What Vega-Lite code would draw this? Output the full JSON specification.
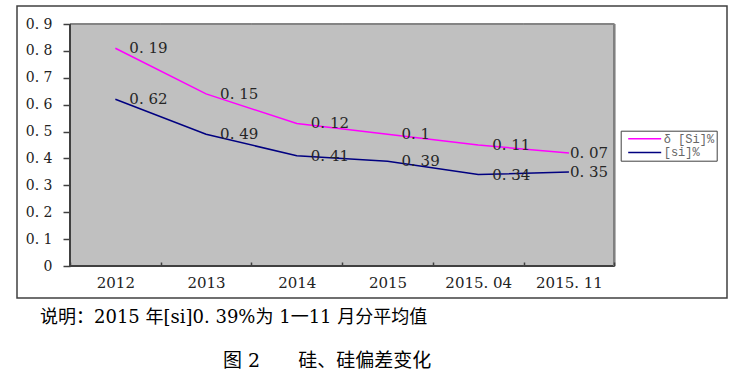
{
  "$schema": "https://vega.github.io/schema/vega-lite/v6.json",
  "width": 710,
  "height": 292,
  "autosize": {"type": "none"},
  "padding": {"left": 17, "top": 6, "right": 19, "bottom": 80},
  "config": {
    "view": {"stroke": "#404040", "strokeWidth": 1.5, "fill": "white"},
    "font": "DejaVu Serif",
    "background": "white",
    "axisY": {"labelOverlap": false},
    "axis": {"labelOverlap": false}
  },
  "title": {
    "text": "说明：2015 年[si]0. 39%为 1一11 月分平均值",
    "subtitle": "\u200b\u3000\u3000\u3000\u3000\u3000\u3000\u3000\u3000\u3000\u00a0\u00a0图 2\u3000\u3000硅、硅偏差变化",
    "orient": "bottom",
    "anchor": "start",
    "frame": "group",
    "dx": 23,
    "offset": 11,
    "font": "DejaVu Serif, Noto Sans CJK SC",
    "fontSize": 18,
    "fontWeight": "normal",
    "color": "black",
    "subtitleFont": "DejaVu Serif, Noto Sans CJK SC",
    "subtitleFontSize": 19,
    "subtitleColor": "black",
    "subtitlePadding": 25
  },
  "data": {
    "values": [
      {"year": "2012", "series": "[si]%", "v": 0.62},
      {"year": "2012", "series": "δ [Si]%", "v": 0.19},
      {"year": "2013", "series": "[si]%", "v": 0.49},
      {"year": "2013", "series": "δ [Si]%", "v": 0.15},
      {"year": "2014", "series": "[si]%", "v": 0.41},
      {"year": "2014", "series": "δ [Si]%", "v": 0.12},
      {"year": "2015", "series": "[si]%", "v": 0.39},
      {"year": "2015", "series": "δ [Si]%", "v": 0.1},
      {"year": "2015.04", "series": "[si]%", "v": 0.34},
      {"year": "2015.04", "series": "δ [Si]%", "v": 0.11},
      {"year": "2015.11", "series": "[si]%", "v": 0.35},
      {"year": "2015.11", "series": "δ [Si]%", "v": 0.07}
    ]
  },
  "transform": [
    {"stack": "v", "groupby": ["year"], "sort": [{"field": "series", "order": "ascending"}], "as": ["v0", "v1"]},
    {"calculate": "replace(toString(datum.v), '.', '. ')", "as": "lab"}
  ],
  "layer": [
    {
      "mark": {"type": "rect", "fill": "#c0c0c0", "stroke": "#c0c0c0", "strokeWidth": 1},
      "encoding": {
        "x": {
          "field": "year", "type": "nominal", "sort": null,
          "scale": {"type": "band", "paddingInner": 0, "paddingOuter": 0.9132, "align": 0.3199},
          "axis": {
            "title": null, "domain": false, "offset": -32, "tickBand": "extent",
            "tickSize": -4, "tickColor": "#404040", "tickWidth": 1.5,
            "labelAngle": 0, "labelFontSize": 15, "labelColor": "#222", "labelPadding": 13,
            "labelFont": "DejaVu Serif",
            "labelExpr": "replace(datum.label, '.', '. ')"
          }
        },
        "y": {
          "datum": 0, "type": "quantitative",
          "scale": {"domain": [-0.119, 0.967], "nice": false, "zero": false},
          "axis": {
            "title": null, "domain": false, "grid": false, "offset": -53,
            "values": [0, 0.1, 0.2, 0.3, 0.4, 0.5, 0.6, 0.7, 0.8, 0.9],
            "labelOverlap": false,
            "tickSize": 7, "tickColor": "#404040", "tickWidth": 1.5,
            "labelFontSize": 14, "labelColor": "#222", "labelPadding": 11,
            "labelFont": "DejaVu Serif",
            "labelExpr": "datum.value == 0 ? '0' : replace(format(datum.value, '.1f'), '.', '. ')"
          }
        },
        "y2": {"datum": 0.9}
      }
    },
    {
      "mark": {"type": "rect", "fill": null, "stroke": "#808080", "strokeWidth": 1.5},
      "encoding": {
        "x": {"field": "year", "type": "nominal", "sort": null, "axis": {"title": null}},
        "y": {"datum": 0.9, "type": "quantitative", "axis": {"title": null, "values": [0, 0.1, 0.2, 0.3, 0.4, 0.5, 0.6, 0.7, 0.8, 0.9], "labelOverlap": false}},
        "y2": {"datum": 0.9}
      }
    },
    {
      "mark": {"type": "rect", "fill": null, "stroke": "#404040", "strokeWidth": 2},
      "encoding": {
        "x": {"field": "year", "type": "nominal", "sort": null, "axis": {"title": null}},
        "y": {"datum": 0, "type": "quantitative", "axis": {"title": null, "values": [0, 0.1, 0.2, 0.3, 0.4, 0.5, 0.6, 0.7, 0.8, 0.9], "labelOverlap": false}},
        "y2": {"datum": 0}
      }
    },
    {
      "mark": {"type": "rule", "stroke": "#404040", "strokeWidth": 2},
      "encoding": {
        "x": {"datum": "2012", "type": "nominal", "bandPosition": 0, "axis": {"title": null}},
        "y": {"datum": 0, "type": "quantitative", "axis": {"title": null, "values": [0, 0.1, 0.2, 0.3, 0.4, 0.5, 0.6, 0.7, 0.8, 0.9], "labelOverlap": false}},
        "y2": {"datum": 0.9}
      }
    },
    {
      "mark": {"type": "rule", "stroke": "#808080", "strokeWidth": 1.5},
      "encoding": {
        "x": {"datum": "2015.11", "type": "nominal", "bandPosition": 1, "axis": {"title": null}},
        "y": {"datum": 0, "type": "quantitative", "axis": {"title": null, "values": [0, 0.1, 0.2, 0.3, 0.4, 0.5, 0.6, 0.7, 0.8, 0.9], "labelOverlap": false}},
        "y2": {"datum": 0.9}
      }
    },
    {
      "mark": {"type": "line", "strokeWidth": 1.5},
      "encoding": {
        "x": {"field": "year", "type": "nominal", "sort": null, "bandPosition": 0.5, "axis": {"title": null}},
        "y": {"field": "v1", "type": "quantitative", "axis": {"title": null, "values": [0, 0.1, 0.2, 0.3, 0.4, 0.5, 0.6, 0.7, 0.8, 0.9], "labelOverlap": false}},
        "color": {
          "field": "series", "type": "nominal",
          "scale": {"domain": ["δ [Si]%", "[si]%"], "range": ["#FF00FF", "#000080"]},
          "legend": {
            "title": null, "orient": "none", "legendX": 603.7, "legendY": 124.7,
            "strokeColor": "#404040", "fillColor": "white", "padding": 2,
            "symbolType": "M-3.3,0H3.3", "symbolStrokeWidth": 1.5, "symbolSize": 100,
            "symbolFillColor": "transparent",
            "symbolOffset": 16,
            "labelFont": "Liberation Mono", "labelFontSize": 12, "labelColor": "#666",
            "rowPadding": 1.7, "labelOffset": 13
          }
        }
      }
    },
    {
      "transform": [{"filter": "datum.year != '2015.11'"}],
      "mark": {"type": "text", "align": "left", "baseline": "middle", "dx": 14, "fontSize": 15, "color": "#262626", "font": "DejaVu Serif"},
      "encoding": {
        "x": {"field": "year", "type": "nominal", "sort": null, "bandPosition": 0.5, "axis": {"title": null}},
        "y": {"field": "v1", "type": "quantitative", "axis": {"title": null, "values": [0, 0.1, 0.2, 0.3, 0.4, 0.5, 0.6, 0.7, 0.8, 0.9], "labelOverlap": false}},
        "text": {"field": "lab"}
      }
    },
    {
      "transform": [{"filter": "datum.year == '2015.11'"}],
      "mark": {"type": "text", "align": "left", "baseline": "middle", "dx": 1, "fontSize": 15, "color": "#262626", "font": "DejaVu Serif"},
      "encoding": {
        "x": {"field": "year", "type": "nominal", "sort": null, "bandPosition": 0.5, "axis": {"title": null}},
        "y": {"field": "v1", "type": "quantitative", "axis": {"title": null, "values": [0, 0.1, 0.2, 0.3, 0.4, 0.5, 0.6, 0.7, 0.8, 0.9], "labelOverlap": false}},
        "text": {"field": "lab"}
      }
    }
  ]
}
